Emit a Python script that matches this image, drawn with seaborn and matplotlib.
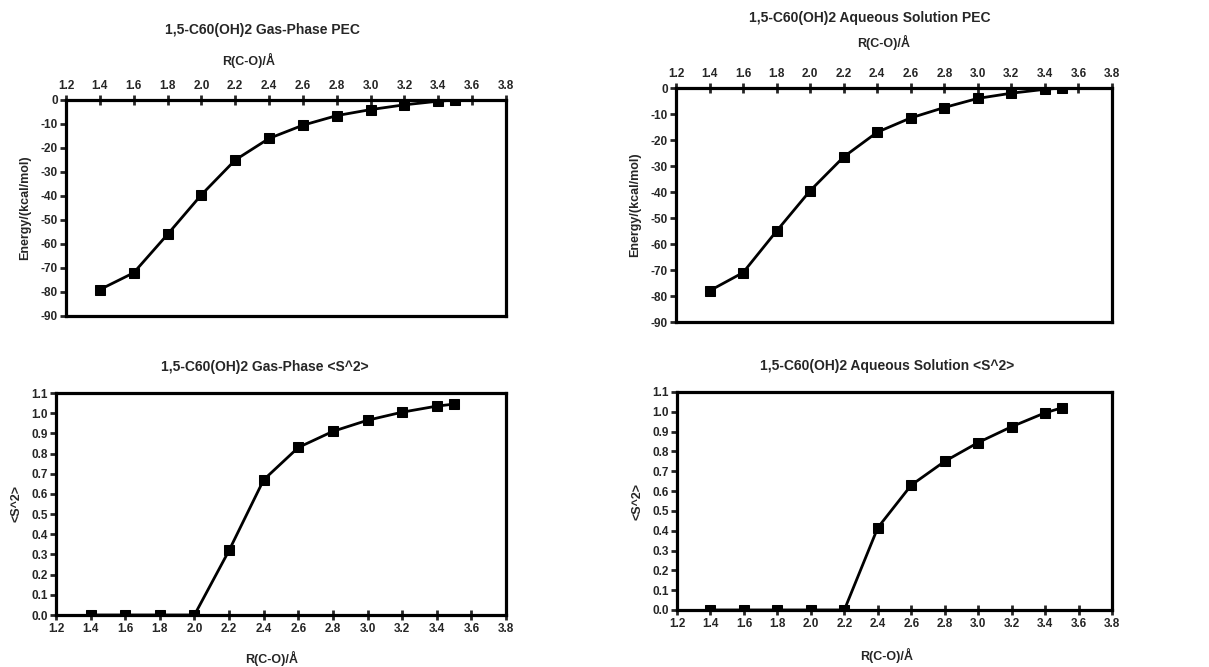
import numpy as np
import pandas as pd
import matplotlib
matplotlib.use("Agg")
import matplotlib.pyplot as plt
import seaborn as sns

# Data
r_co = [1.4, 1.6, 1.8, 2.0, 2.2, 2.4, 2.6, 2.8, 3.0, 3.2, 3.4, 3.5]
gas_energy = [-79.0, -72.0, -56.0, -39.5, -25.0, -16.0, -10.5, -6.5, -4.0, -2.0, -0.5, 0.0]
aq_energy = [-78.0, -71.0, -55.0, -39.5, -26.5, -17.0, -11.5, -7.5, -4.0, -2.0, -0.5, 0.0]
gas_s2 = [0.0, 0.0, 0.0, 0.0, 0.32, 0.67, 0.83, 0.91, 0.965, 1.005, 1.035, 1.045]
aq_s2 = [0.0, 0.0, 0.0, 0.0, 0.0, 0.415, 0.63, 0.75, 0.845, 0.925, 0.995, 1.02]

x_ticks = [1.2, 1.4, 1.6, 1.8, 2.0, 2.2, 2.4, 2.6, 2.8, 3.0, 3.2, 3.4, 3.6, 3.8]
energy_ticks = [0, -10, -20, -30, -40, -50, -60, -70, -80, -90]
s2_ticks = [0.0, 0.1, 0.2, 0.3, 0.4, 0.5, 0.6, 0.7, 0.8, 0.9, 1.0, 1.1]

titles = ["1,5-C60(OH)2 Gas-Phase PEC", "1,5-C60(OH)2 Aqueous Solution PEC",
          "1,5-C60(OH)2 Gas-Phase <S^2>", "1,5-C60(OH)2 Aqueous Solution <S^2>"]
x_label = "R(C-O)/Å"
energy_label = "Energy/(kcal/mol)"
s2_label = "<S^2>"

sns.set_style("white")
plt.rcParams["font.family"] = ["Liberation Sans", "DejaVu Sans"]
plt.rcParams["font.weight"] = "bold"

W, H = 1209, 667
fig = plt.figure(figsize=(W / 100, H / 100), dpi=100)


def px_axes(x0, y0, x1, y1):
    # pixel box (top-left origin) -> figure axes
    return fig.add_axes([x0 / W, 1 - y1 / H, (x1 - x0) / W, (y1 - y0) / H])


def draw(ax, y, yticks, ylim, ylabel, top_axis, ylabelpad):
    df = pd.DataFrame({"r": r_co, "v": y})
    sns.lineplot(data=df, x="r", y="v", ax=ax, color="black", linewidth=2,
                 marker="s", markersize=7, markeredgecolor="black")
    ax.set_xlim(1.2, 3.8)
    ax.set_ylim(*ylim)
    ax.set_xticks(x_ticks)
    ax.set_xticklabels([f"{t:.1f}" for t in x_ticks])
    ax.set_yticks(yticks)
    if ylim[1] > 1:
        ax.set_yticklabels([f"{t:.1f}" for t in yticks])
    else:
        ax.set_yticklabels([f"{t:d}" for t in yticks])
    for s in ax.spines.values():
        s.set_linewidth(2.3)
        s.set_color("black")
    ax.tick_params(axis="x", direction="inout", length=7, width=2, labelsize=8.5,
                   top=top_axis, bottom=not top_axis,
                   labeltop=top_axis, labelbottom=not top_axis, pad=2)
    ax.tick_params(axis="y", direction="out", length=4, width=2, labelsize=8.5, left=True, pad=2)
    ax.set_xlabel("")
    ax.set_ylabel(ylabel, fontsize=9, fontweight="bold", labelpad=ylabelpad)


ax1 = px_axes(66, 100, 506, 316)
draw(ax1, gas_energy, energy_ticks, (-90, 0), energy_label, True, 7)
ax2 = px_axes(676, 88, 1112, 322)
draw(ax2, aq_energy, energy_ticks, (-90, 0), energy_label, True, 7)
ax3 = px_axes(56, 393, 506, 615)
draw(ax3, gas_s2, s2_ticks, (0, 1.1), s2_label, False, 6)
ax4 = px_axes(677, 392, 1112, 610)
draw(ax4, aq_s2, s2_ticks, (0, 1.1), s2_label, False, 6)

# titles and x labels, placed like the original layout
title_pos = [(262, 30), (870, 18), (265, 367), (887, 366)]
xlab_pos = [(249, 60), (884, 42), (272, 658), (887, 655)]
for t, (tx, ty), (lx, ly) in zip(titles, title_pos, xlab_pos):
    fig.text(tx / W, 1 - ty / H, t, ha="center", va="center", fontsize=10, fontweight="bold")
    fig.text(lx / W, 1 - ly / H, x_label, ha="center", va="center", fontsize=9, fontweight="bold")

fig.savefig("out.png", dpi=100, facecolor="white")
